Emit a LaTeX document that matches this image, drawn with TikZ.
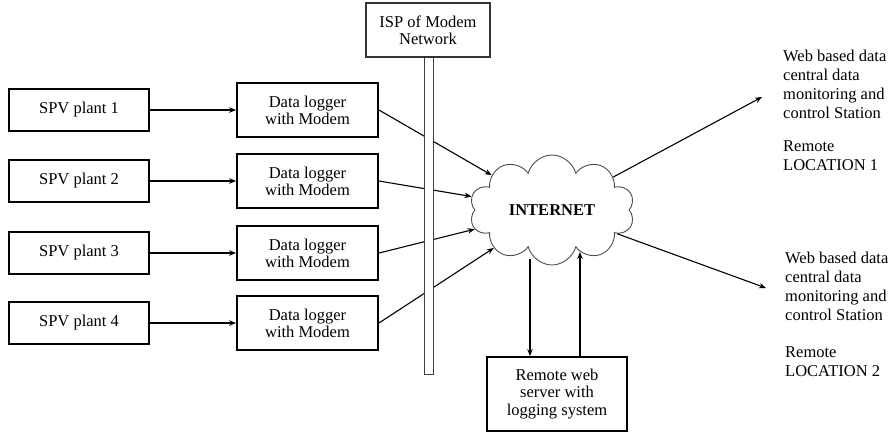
\documentclass[tikz,border=0pt]{standalone}
\usepackage{fontspec}
\setmainfont{Liberation Serif}
\usetikzlibrary{shapes.symbols,arrows.meta}
\begin{document}
\begin{tikzpicture}[x=1pt,y=-1pt,
  txt/.style={font=\fontsize{16.5}{17}\selectfont},
  box/.style={txt,draw,line width=1.9pt,inner sep=0pt,align=center},
  spv/.style={box,minimum width=140pt,minimum height=42pt},
  logger/.style={box,minimum width=141pt,minimum height=54pt},
  conn/.style={line width=1.1pt,-{Stealth[length=7pt,width=5.5pt]}},
  side/.style={font=\fontsize{16.5}{19}\selectfont,align=left,inner sep=0pt,anchor=north west}]
\useasboundingbox (0,0) rectangle (895,432);

% plants
\node[spv] (p1) at (79,110) {SPV plant 1};
\node[spv] (p2) at (79,181) {SPV plant 2};
\node[spv] (p3) at (79,253) {SPV plant 3};
\node[spv] (p4) at (79,323) {SPV plant 4};

% loggers
\node[logger] (d1) at (307.5,110) {Data logger\\with Modem};
\node[logger] (d2) at (307.5,181) {Data logger\\with Modem};
\node[logger] (d3) at (307.5,253) {Data logger\\with Modem};
\node[logger] (d4) at (307.5,323) {Data logger\\with Modem};

% cloud
\node[cloud,cloud puffs=10,aspect=1.5,draw=gray!60!black,line width=0.9pt,
      minimum width=165pt,minimum height=110pt,inner sep=0pt,
      font=\fontsize{16.5}{18}\selectfont\bfseries] (net) at (552,210) {INTERNET};

% server
\node[box,minimum width=140pt,minimum height=74pt,
      font=\fontsize{16.5}{17.5}\selectfont] (srv) at (557,394) {Remote web\\server with\\logging system};

% connectors
\draw[conn] (p1) -- (d1);
\draw[conn] (p2) -- (d2);
\draw[conn] (p3) -- (d3);
\draw[conn] (p4) -- (d4);
\draw[conn] (d1.east) -- (net);
\draw[conn] (d2.east) -- (net);
\draw[conn] (d3.east) -- (net);
\draw[conn] (d4.east) -- (net);

\coordinate (r1) at (762,97);
\coordinate (r2) at (766,288);
\draw[conn] (net) -- (r1);
\draw[conn] (net) -- (r2);

\coordinate (sd) at (530,259);
\coordinate (su) at (580,252);
\draw[conn] (sd) -- (sd |- srv.north);
\draw[conn] (su |- srv.north) -- (su);

% ISP pole
\node[draw=gray!50!black,fill=white,line width=0.9pt,minimum width=9pt,
      minimum height=317pt,inner sep=0pt] (pole) at (428.5,215.5) {};
\node[box,draw=gray!40!black,line width=1.1pt,minimum width=124pt,
      minimum height=54pt] (isp) at (428,30) {ISP of Modem\\Network};

% right texts
\node[side] (w1) at (783,50) {Web based data\\central data\\monitoring and\\control Station};
\node[side] (l1) at (783,140) {Remote\\LOCATION 1};
\node[side] (w2) at (785,252) {Web based data\\central data\\monitoring and\\control Station};
\node[side] (l2) at (785,346) {Remote\\LOCATION 2};
\end{tikzpicture}
\end{document}
